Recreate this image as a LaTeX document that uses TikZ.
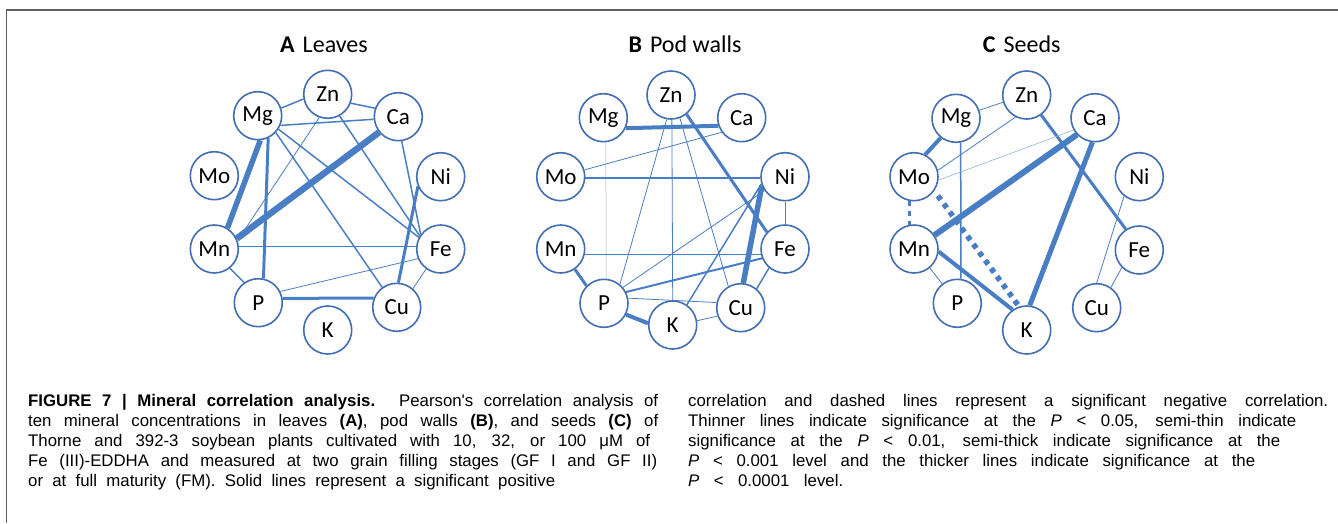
\documentclass[tikz,border=0pt]{standalone}
\usepackage{fontspec}
\setmainfont{Liberation Sans}
\newfontfamily\calib{Carlito}
\newfontfamily\capfont{Liberation Sans}
\usetikzlibrary{backgrounds}
\definecolor{edgeblue}{RGB}{74,126,196}
\definecolor{nodeblue}{RGB}{66,110,178}
\definecolor{framegray}{RGB}{95,95,95}
\tikzset{
  el/.style={circle, draw=nodeblue, line width=1.6pt, fill=white, minimum size=48pt, inner sep=0pt, font=\calib\fontsize{23}{23}\selectfont},
  wa/.style={draw=edgeblue, line width=0.8pt},
  wb/.style={draw=edgeblue, line width=1.5pt},
  wc/.style={draw=edgeblue, line width=3pt},
  wd/.style={draw=edgeblue, line width=5.5pt},
  neg/.style={dash pattern=on 5pt off 5pt},
  ttl/.style={inner sep=0pt, font=\calib\fontsize{24}{24}\selectfont},
  capl/.style={anchor=base west, inner sep=0pt, font=\capfont\fontsize{16.8}{16.8}\selectfont}
}
\begin{document}
\begin{tikzpicture}[x=1pt,y=-1pt]
\useasboundingbox (0,0) rectangle (1338,523);
\draw[framegray, line width=1.5pt] (6.5,523) -- (6.5,10) -- (1338,10);

% ---------- Panel A ----------
\node[ttl] (tA) at (324,45) {\textbf{A}\hspace{8pt}Leaves};
\node[el] (aZn) at (327.7,94.3) {Zn};
\node[el] (aMg) at (257.7,115.7) {Mg};
\node[el] (aCa) at (398.3,116.7) {Ca};
\node[el] (aMo) at (214.3,175.7) {Mo};
\node[el] (aNi) at (440.7,176.7) {Ni};
\node[el] (aMn) at (214.3,249) {Mn};
\node[el] (aFe) at (440.7,249) {Fe};
\node[el] (aP) at (258.3,302.7) {P};
\node[el] (aCu) at (396.7,307.3) {Cu};
\node[el] (aK) at (327.7,330) {K};

% ---------- Panel B ----------
\node[ttl] (tB) at (685,44) {\textbf{B}\hspace{8pt}Pod walls};
\node[el] (bZn) at (671,95) {Zn};
\node[el] (bMg) at (603.3,117.7) {Mg};
\node[el] (bCa) at (741.7,117.7) {Ca};
\node[el] (bMo) at (560.7,176.7) {Mo};
\node[el] (bNi) at (785,176.7) {Ni};
\node[el] (bMn) at (560.7,249) {Mn};
\node[el] (bFe) at (785,249) {Fe};
\node[el] (bP) at (604,303.3) {P};
\node[el] (bK) at (672.7,325) {K};
\node[el] (bCu) at (740.7,307.7) {Cu};

% ---------- Panel C ----------
\node[ttl] (tC) at (1021.7,44) {\textbf{C}\hspace{8pt}Seeds};
\node[el] (cZn) at (1026.7,95) {Zn};
\node[el] (cMg) at (956,118.3) {Mg};
\node[el] (cCa) at (1095,117.7) {Ca};
\node[el] (cMo) at (914,176.7) {Mo};
\node[el] (cNi) at (1139.3,176.7) {Ni};
\node[el] (cMn) at (914,249) {Mn};
\node[el] (cFe) at (1139.3,250) {Fe};
\node[el] (cP) at (957.3,303.3) {P};
\node[el] (cK) at (1026.7,330) {K};
\node[el] (cCu) at (1096.7,307.7) {Cu};

\begin{scope}[on background layer]
% A edges
\draw[wb] (aMg.18) -- (aZn.191);
\draw[wb] (aZn.-21) -- (aCa.160);
\draw[wb] (aMg.-23) -- (aCa.186);
\draw[wa] (aZn.-110) -- (aMn.20);
\draw[wb] (aZn.-61) -- (aFe.148);
\draw[wd] (aMg.-84) -- (aMn.58);
\draw[wc] (aMg.-65) -- (aP.78);
\draw[wb] (aMg.-43) -- (aCu.126);
\draw[wb] (aMg.-33) -- (aFe.152);
\draw[wd, line width=6.5pt] (aCa.219) -- (aMn.25);
\draw[wb] (aCa.-82) -- (aFe.144);
\draw[wc] (aNi.203) -- (aCu.86);
\draw[wb, line width=1.1pt] (aMn.5) -- (aFe.175);
\draw[wb] (aMn.-51) -- (aP.125);
\draw[wa] (aP.27) -- (aFe.203);
\draw[wc] (aP.10) -- (aCu.158);
\draw[wa] (aFe.234) -- (aCu.49);
% B edges
\draw[wc, line width=4pt] (bMg.-25) -- (bCa.199);
\draw[wc] (bZn.-51) -- (bFe.137);
\draw[wa] (bZn.-100) -- (bP.50);
\draw[wa] (bZn.-88) -- (bK.90);
\draw[wa] (bZn.-69) -- (bCu.120);
\draw[wa, line width=0.5pt, draw=edgeblue!60] (bMg.-84) -- (bP.85);
\draw[wa] (bMo.16) -- (bCa.216);
\draw[wb, line width=1.2pt] (bMo.-3) -- (bNi.183);
\draw[wa] (bNi.-90) -- (bFe.90);
\draw[wd] (bNi.201) -- (bCu.84);
\draw[wa] (bNi.214) -- (bP.40);
\draw[wb] (bNi.197) -- (bK.55);
\draw[wb, line width=1.2pt] (bMn.-12) -- (bFe.192);
\draw[wc] (bMn.-55) -- (bP.135);
\draw[wb, line width=2pt] (bP.27) -- (bFe.202);
\draw[wa] (bP.12) -- (bCu.168);
\draw[wc, line width=4pt] (bP.-27) -- (bK.176);
\draw[wa] (bK.10) -- (bCu.200);
\draw[wb] (bFe.230) -- (bCu.50);
% C edges
\draw[wa] (cMg.19) -- (cZn.197);
\draw[wc, line width=4pt] (cMg.232) -- (cMo.63);
\draw[wb] (cMg.-79) -- (cP.82);
\draw[wa] (cZn.243) -- (cMo.15);
\draw[wc] (cZn.-54) -- (cFe.123);
\draw[wa, line width=0.6pt, draw=edgeblue!60] (cCa.210) -- (cMo.-8);
\draw[wd, line width=6pt] (cCa.223) -- (cMn.34);
\draw[wd, line width=5pt] (cCa.264) -- (cK.83);
\draw[wc, neg] (cMo.-100) -- (cMn.100);
\draw[wd, neg, shorten <=6pt] (cMo.-35) -- (cK.108);
\draw[wa] (cMn.-50) -- (cP.128);
\draw[wc, line width=4pt] (cMn.-6) -- (cK.125);
\draw[wa] (cNi.232) -- (cCu.90);
\draw[wa] (cFe.225) -- (cCu.55);
\end{scope}

% ---------- Caption ----------
\node[capl] (l1) at (28,406) {\makebox[630pt][s]{\textbf{FIGURE 7 | Mineral correlation analysis.} Pearson's correlation analysis of}};
\node[capl] (l2) at (28,426) {\makebox[630pt][s]{ten mineral concentrations in leaves \textbf{(A)}, pod walls \textbf{(B)}, and seeds \textbf{(C)} of}};
\node[capl] (l3) at (28,446) {\makebox[622pt][s]{Thorne and 392-3 soybean plants cultivated with 10, 32, or 100 μM of}};
\node[capl] (l4) at (28,466) {\makebox[629pt][s]{Fe (III)-EDDHA and measured at two grain filling stages (GF I and GF II)}};
\node[capl] (l5) at (28,486) {\makebox[527pt][s]{or at full maturity (FM). Solid lines represent a significant positive}};
\node[capl] (r1) at (688,406) {\makebox[640pt][s]{correlation and dashed lines represent a significant negative correlation.}};
\node[capl] (r2) at (688,426) {\makebox[608pt][s]{Thinner lines indicate significance at the \textit{P} < 0.05, semi-thin indicate}};
\node[capl] (r3) at (688,446) {\makebox[592pt][s]{significance at the \textit{P} < 0.01, semi-thick indicate significance at the}};
\node[capl] (r4) at (688,466) {\makebox[567pt][s]{\textit{P} < 0.001 level and the thicker lines indicate significance at the}};
\node[capl] (r5) at (688,486) {\makebox[155pt][s]{\textit{P} < 0.0001 level.}};
\end{tikzpicture}
\end{document}
